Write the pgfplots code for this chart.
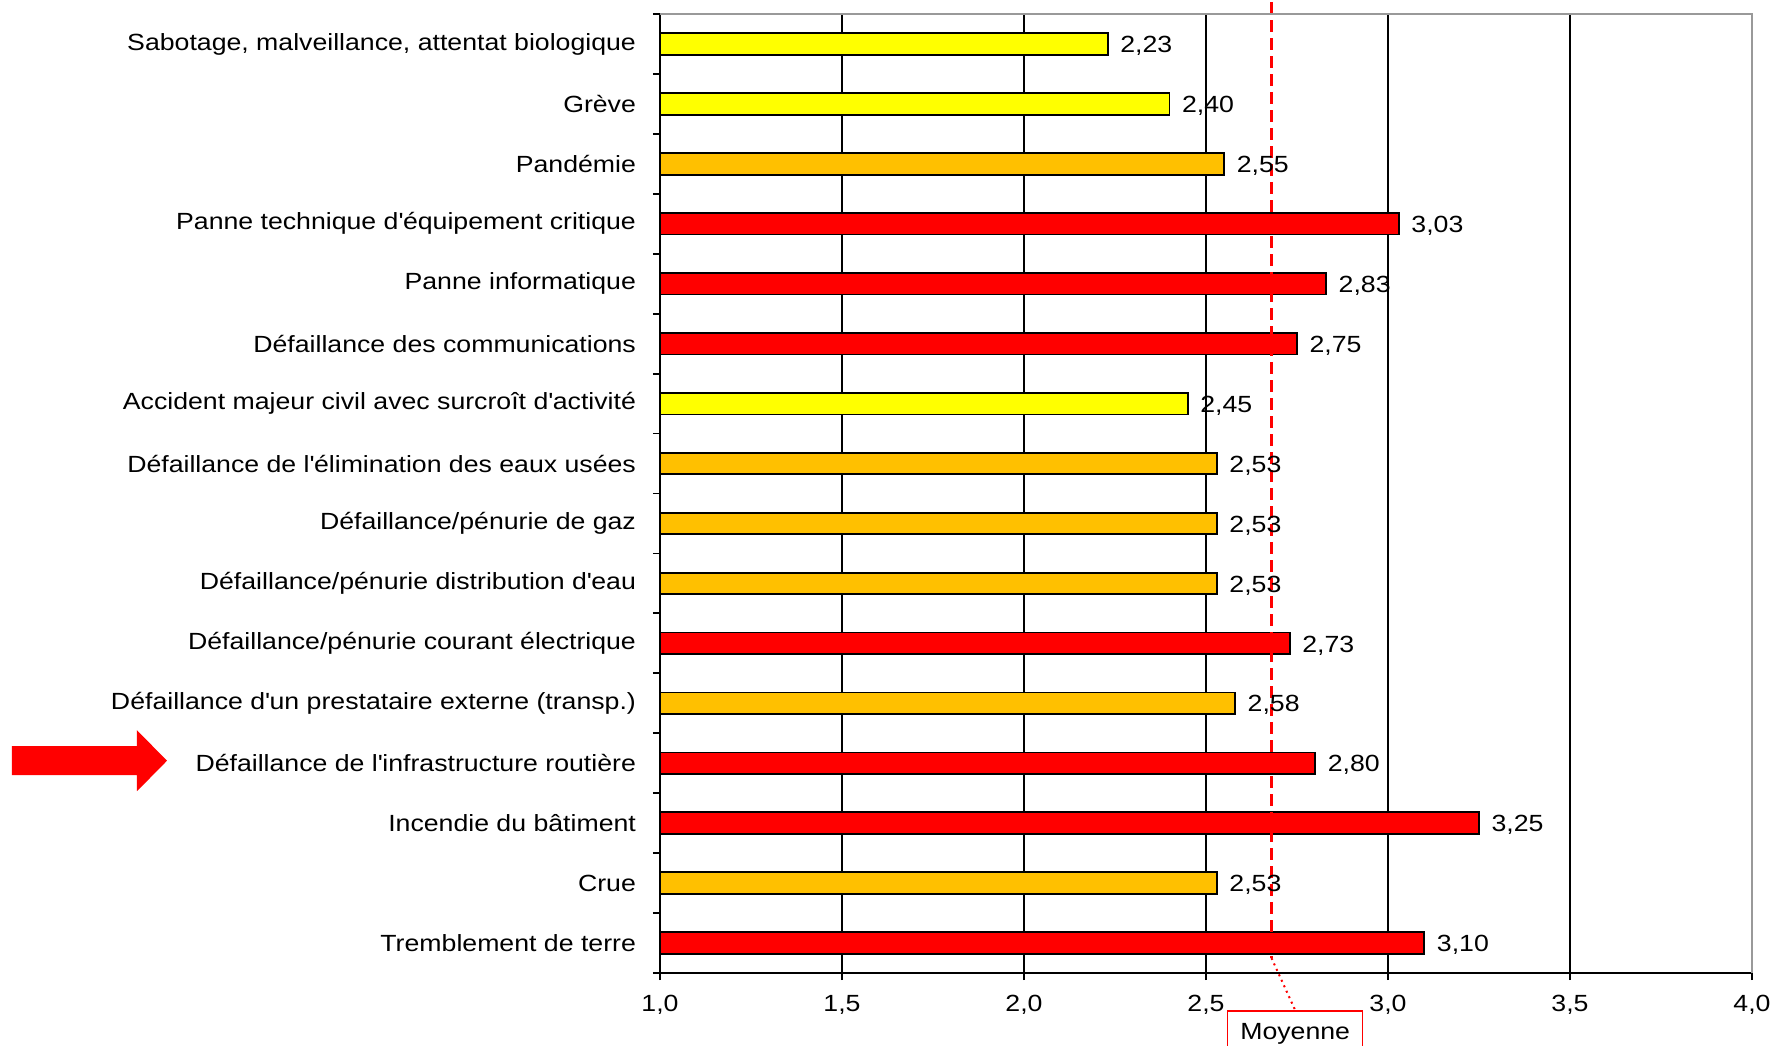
\documentclass[border=0pt]{standalone}
\usepackage{fontspec}
\setmainfont{Liberation Sans}[FakeStretch=1.14]
\usepackage{pgfplots}
\pgfplotsset{compat=1.18}
\definecolor{cyel}{RGB}{255,255,0}
\definecolor{corg}{RGB}{255,192,0}
\definecolor{cred}{RGB}{255,0,0}
\newcommand{\q}{\textquotesingle}
\begin{document}
\begin{tikzpicture}[font=\fontsize{11.7}{14}\selectfont]
\path[use as bounding box] (-330pt,-36pt) rectangle (558.5pt,486.5pt);
\begin{axis}[
  at={(0,0)}, anchor=south west,
  width=546pt, height=479.5pt, scale only axis,
  xbar, bar shift=0pt, bar width=10.8pt,
  xmin=1, xmax=4, xtick={1,1.5,...,4},
  ymin=-0.5, ymax=15.5, y dir=reverse,
  ytick={0,...,15},
  yticklabels={{Sabotage, malveillance, attentat biologique},
    {Grève}, {Pandémie}, {Panne technique d\q équipement critique},
    {Panne informatique}, {Défaillance des communications},
    {Accident majeur civil avec surcroît d\q activité},
    {Défaillance de l\q élimination des eaux usées},
    {Défaillance/pénurie de gaz},
    {Défaillance/pénurie distribution d\q eau},
    {Défaillance/pénurie courant électrique},
    {Défaillance d\q un prestataire externe (transp.)},
    {Défaillance de l\q infrastructure routière},
    {Incendie du bâtiment}, {Crue}, {Tremblement de terre}},
  minor ytick={-0.5,0.5,...,15.5},
  xtick pos=bottom, ytick pos=left,
  tick align=outside,
  major tick length=3.5pt, minor tick length=3.5pt,
  major y tick style={draw=none},
  every tick/.style={black, line width=0.9pt},
  minor y tick style={black, line width=0.9pt},
  xmajorgrids=true,
  major grid style={black, line width=0.9pt},
  axis line style={black, line width=0.9pt},
  xticklabel style={yshift=-4pt, /pgf/number format/fixed, /pgf/number format/fixed zerofill, /pgf/number format/precision=1, /pgf/number format/use comma, /pgf/number format/assume math mode=true},
  yticklabel style={xshift=-5pt},
  point meta=x,
  nodes near coords={\pgfmathprintnumber[fixed,fixed zerofill,precision=2,use comma,assume math mode=true]{\pgfplotspointmeta}},
  every node near coord/.append style={anchor=west, xshift=2.5pt, yshift=-1pt, black},
  clip=false,
]
\addplot[draw=black, line width=0.9pt, fill=cyel] coordinates {(2.23,0) (2.40,1) (2.45,6)};
\addplot[draw=black, line width=0.9pt, fill=corg] coordinates {(2.55,2) (2.53,7) (2.53,8) (2.53,9) (2.58,11) (2.53,14)};
\addplot[draw=black, line width=0.9pt, fill=cred] coordinates {(3.03,3) (2.83,4) (2.75,5) (2.73,10) (2.80,12) (3.25,13) (3.10,15)};
\draw[cred, dash pattern=on 6pt off 3pt, line width=1.2pt] (axis cs:2.68,-0.7) -- (axis cs:2.68,15.25);
\draw[cred, dotted, line width=1pt] (axis cs:2.68,15.25) -- (axis cs:2.745,16.12);
\node[draw=cred, line width=0.8pt, anchor=north, minimum width=67.5pt, minimum height=30pt, inner sep=0pt] (moy) at (axis cs:2.745,16.12) {};
\node[anchor=north, inner sep=0pt] at ([yshift=-6.5pt]moy.north) {Moyenne};
\fill[cred] ([xshift=-324pt,yshift=8.5pt]axis cs:1,12) -- ([xshift=-261.5pt,yshift=8.5pt]axis cs:1,12)
  -- ([xshift=-261.5pt,yshift=16.5pt]axis cs:1,12) -- ([xshift=-246.5pt,yshift=1.25pt]axis cs:1,12)
  -- ([xshift=-261.5pt,yshift=-14pt]axis cs:1,12) -- ([xshift=-261.5pt,yshift=-6pt]axis cs:1,12)
  -- ([xshift=-324pt,yshift=-6pt]axis cs:1,12) -- cycle;
\end{axis}
\draw[black!40, line width=1pt] (current axis.north west) -- (current axis.north east) -- (current axis.south east);
\end{tikzpicture}
\end{document}
